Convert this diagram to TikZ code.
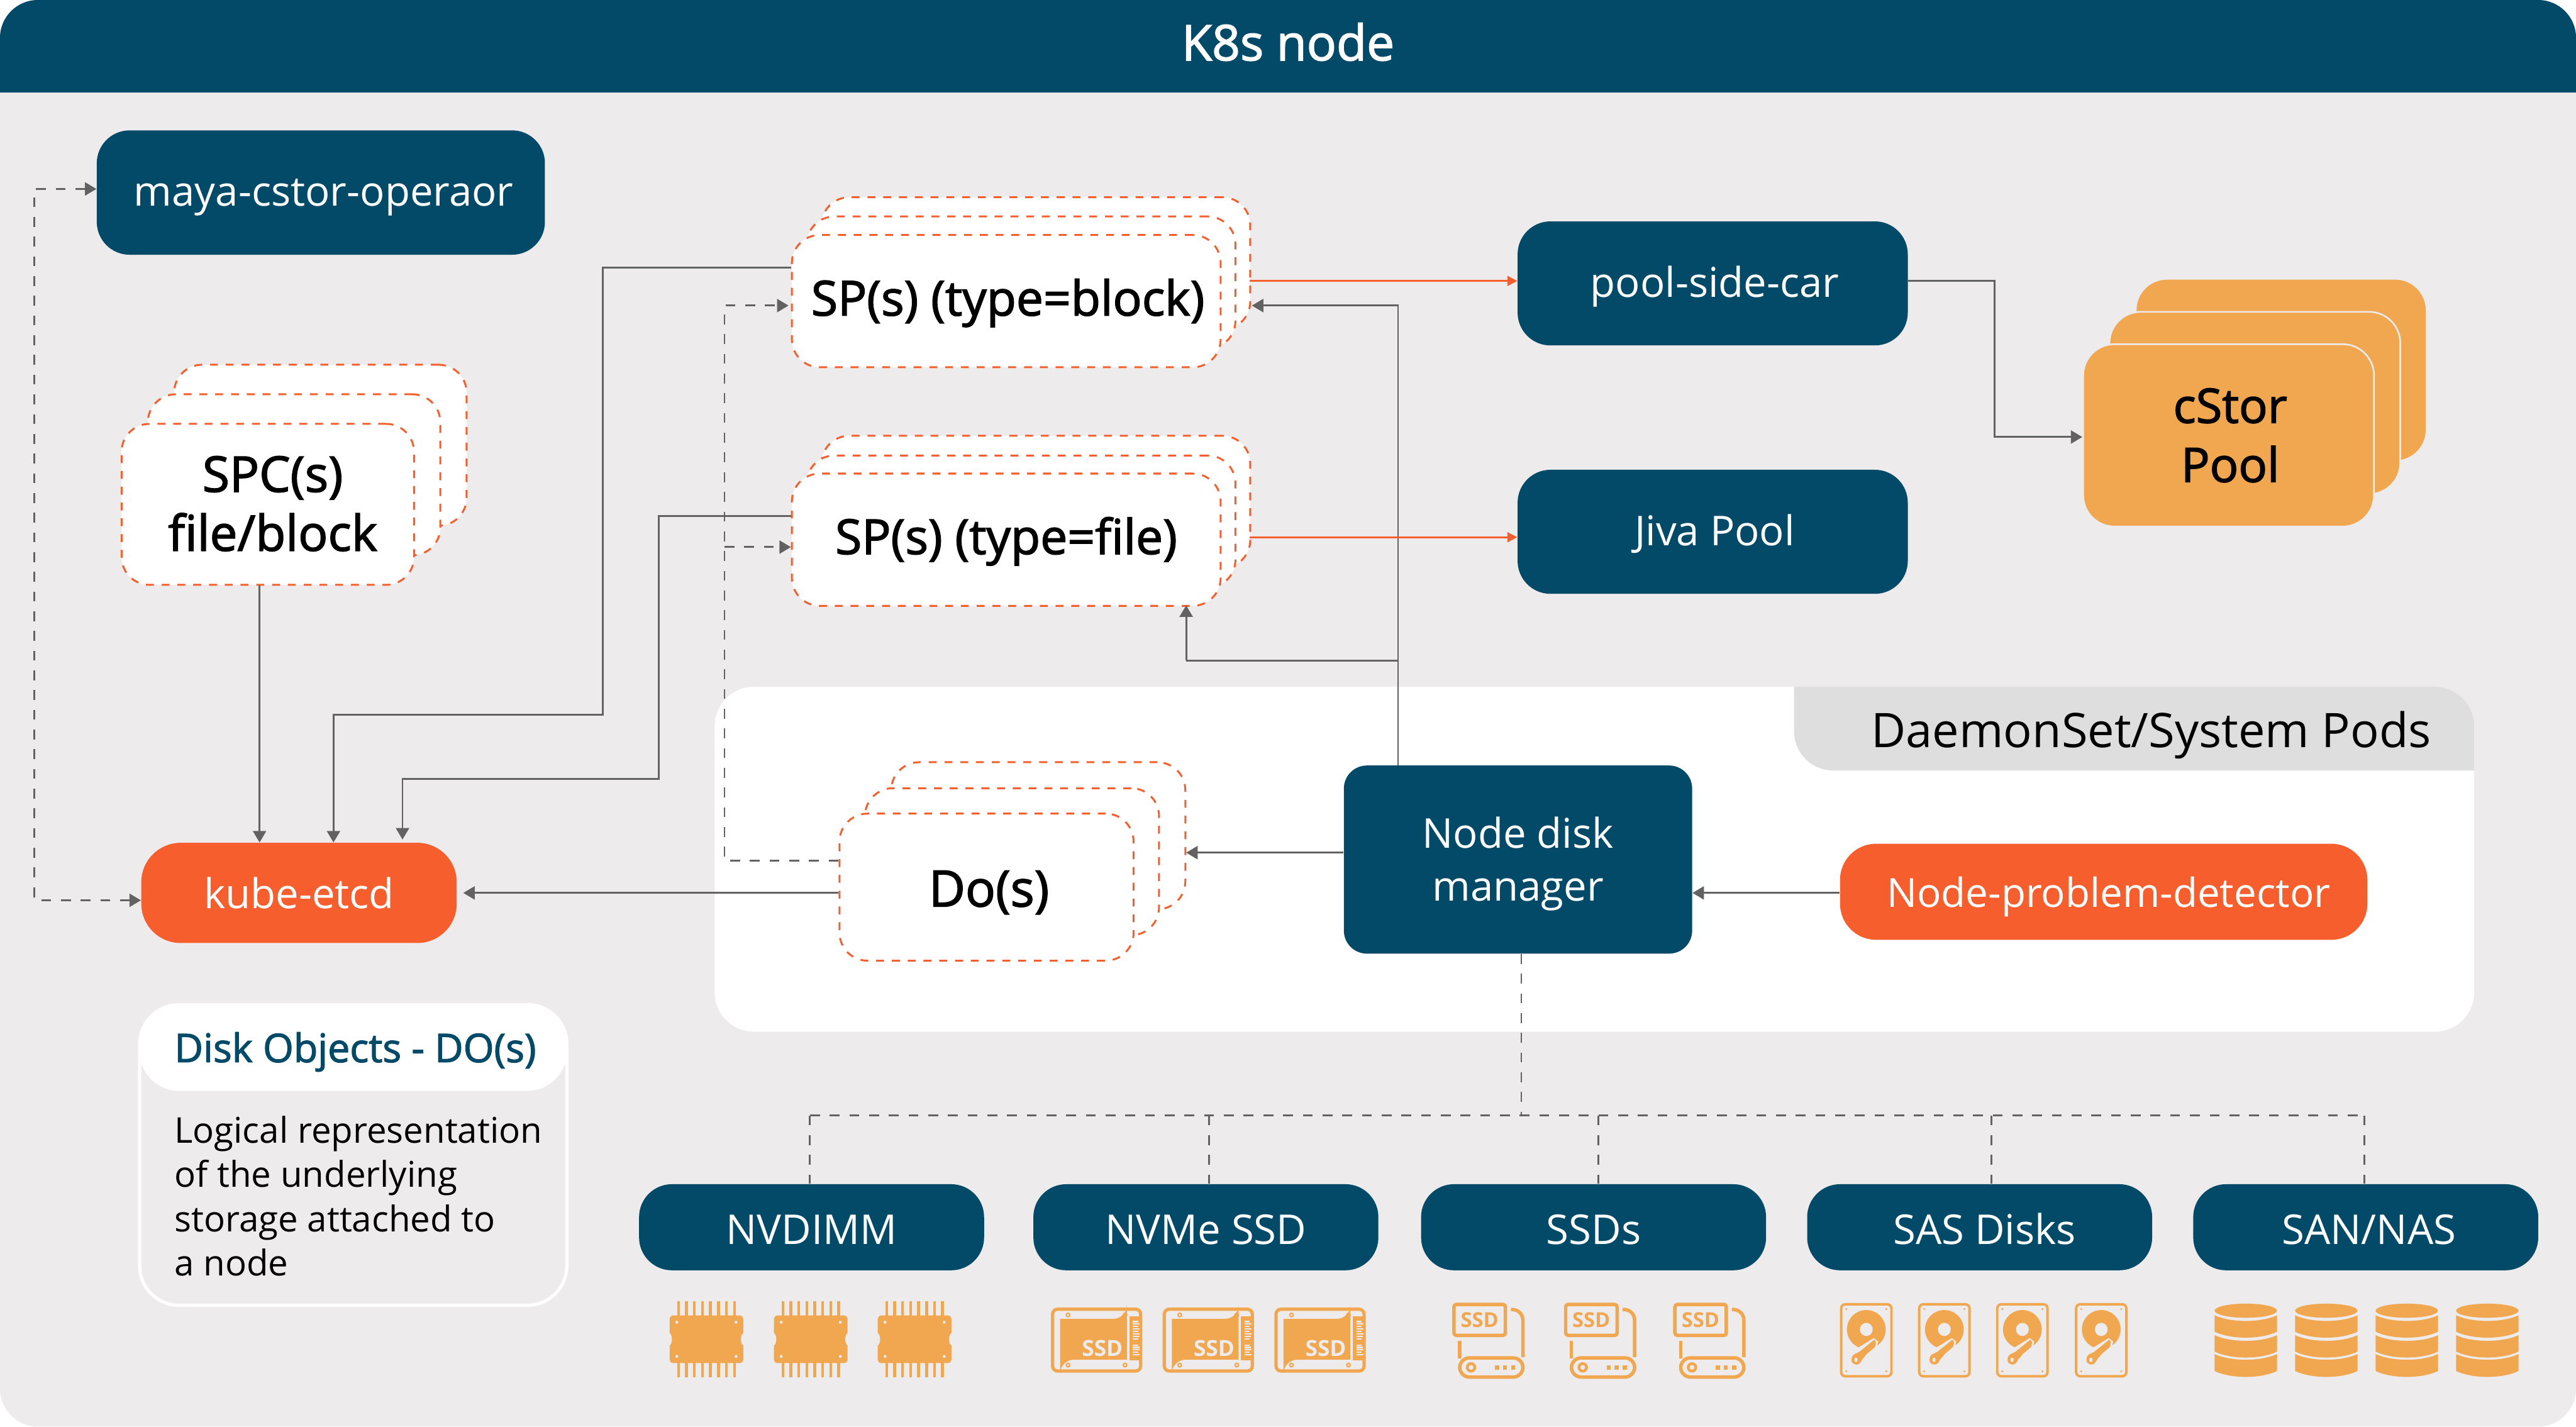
\documentclass[tikz,border=0pt]{standalone}
\usepackage{fontspec}
\setmainfont{Open Sans}
\newfontfamily\medf[FakeBold=2]{Open Sans}
\usetikzlibrary{arrows.meta}
\definecolor{navy}{HTML}{034A68}
\definecolor{hot}{HTML}{F65E2E}
\definecolor{amber}{HTML}{F0A750}
\definecolor{pagebg}{HTML}{EDEBEC}
\definecolor{tabgrey}{HTML}{DEDEDE}
\definecolor{wire}{HTML}{626262}
\newcommand{\fs}[1]{\fontsize{#1}{#1}\selectfont}
\tikzset{
  x=1pt,y=-1pt,
  solidbox/.style={rectangle,rounded corners=#1,inner sep=0pt,align=center},
  navybox/.style={solidbox=20pt,fill=navy,text=white,font=\fs{25},text height=20pt,text depth=3.4pt},
  stackbox/.style={rectangle,rounded corners=17pt,inner sep=0pt,align=center,fill=white,draw=hot,line width=1.15pt,dash pattern=on 4.8pt off 4.8pt,font=\medf\fs{29.4},text height=21pt,text depth=3.5pt},
  poolbox/.style={rectangle,rounded corners=19pt,inner sep=0pt,align=center,fill=amber,draw=pagebg,line width=1pt,font=\medf\fs{29}},
  wirearrow/.style={draw=wire,line width=1.1pt,-{Triangle[length=7pt,width=8pt]},fill=none},
  wireplain/.style={draw=wire,line width=1.1pt},
  dashwire/.style={draw=wire,line width=1.1pt,dash pattern=on 6pt off 6pt},
  hotarrow/.style={draw=hot,line width=1.15pt,-{Triangle[length=6pt,width=6pt]}},
  icon/.style={fill=amber,draw=none},
  iconline/.style={draw=amber,fill=none},
  chipicon/.pic={
    \foreach \i in {0,...,7}{\fill[amber] ({-17+\i*4.86-0.85},-23) rectangle ({-17+\i*4.86+0.85},23);}
    \fill[amber,rounded corners=2pt] (-22.4,-14.5) rectangle (22.4,14.5);
    \fill[pagebg] (-22.6,0) ellipse (1.6 and 3.7);
    \fill[pagebg] (22.6,0) ellipse (1.6 and 3.7);
    \foreach \a in {-18,18}\foreach \b in {-10.4,10.4}{\fill[pagebg] (\a,\b) circle (0.9);}
  },
  ssdcard/.pic={
    \draw[iconline,line width=2pt,rounded corners=3pt] (-26.8,-18.8) rectangle (26.8,18.8);
    \foreach \a in {-17.4,17.3}\foreach \b in {-15.3,15.2}{\draw[iconline,line width=.8pt] (\a,\b) circle (1.1);}
    \fill[amber] (-22.2,-12.9) -- (10,-12.9) arc[start angle=-90,end angle=0,x radius=8.4,y radius=-8.4] -- (18.4,11.9) -- (-13.8,11.9) arc[start angle=90,end angle=180,x radius=8.4,y radius=-8.4] -- cycle;
    \fill[amber] (19.9,-14.5) rectangle (27,12.4);
    \foreach \b/\e in {-11.2/25.2,-9.8/26.3,-8.3/25.2,-6.8/26.3,-5.2/25.2,-3.7/26.3,-2.2/26,-0.7/25.2,3/25.2,4.4/26,5.9/26.3,7.4/25.2,8.9/26.3}{\fill[pagebg] (22.1,\b-.45) rectangle (\e,\b+.45);}
    \node[text=pagebg,font=\bfseries\fs{13.5},inner sep=0pt] (ssdtxt) at (3.5,5) {SSD};
  },
  ssdcase/.pic={
    \draw[iconline,line width=2.1pt,rounded corners=1.5pt] (1,1) rectangle (32.3,19.8);
    \node[text=amber,font=\bfseries\fs{12.5},inner sep=0pt] (ssdtxt) at (16.6,10.4) {SSD};
    \draw[iconline,line width=2.1pt] (35.7,4) .. controls (40,4) and (43,6.5) .. (43,11) -- (43,33);
    \draw[iconline,line width=2.1pt] (4.5,23.2) -- (4.5,34);
    \draw[iconline,line width=2.1pt,rounded corners=6pt] (4.5,33.5) rectangle (43,45.2);
    \draw[iconline,line width=1.7pt] (11.4,39.3) circle (2.3);
    \foreach \a in {27.2,32,37}{\fill[amber] (\a-1.25,38) rectangle (\a+1.25,40.6);}
  },
  hddicon/.pic={
    \draw[iconline,line width=1.5pt,rounded corners=2.5pt] (.7,.9) rectangle (31.3,44.7);
    \fill[amber] (16,16.2) circle (11.8);
    \fill[pagebg] (16,16.2) ellipse (3.9 and 4);
    \fill[pagebg] (20.5,21.5) -- (23.2,23.5) -- (22,29.5) -- (10,40) -- (5,36) -- (5,31) -- cycle;
    \fill[amber] (20.8,22.5) .. controls (22.2,23) and (22,25) .. (21.2,27) -- (16.6,30.8) -- (13.4,34.6) .. controls (12.5,36.5) and (11.5,37.6) .. (10.2,37.6) .. controls (8,37.6) and (6.7,36) .. (7,34.6) .. controls (7,33) and (7.6,32) .. (8.5,31.4) -- (11.8,29.8) -- cycle;
    \fill[pagebg] (9.7,34.7) ellipse (1 and 1.4);
    \foreach \a in {3.8,28.2}\foreach \b in {3.8,41.7}{\fill[amber] (\a,\b) circle (.65);}
  },
  dbicon/.pic={
    \fill[amber] (19,4.3) ellipse (19 and 4.3);
    \foreach \s/\h in {7.1/10,19.2/10,30.7/10.3}{
      \fill[amber] (0,\s) .. controls (10,{\s+4.6}) and (28,{\s+4.6}) .. (38,\s) -- (38,\s+\h) .. controls (28,{\s+\h+4.8}) and (10,{\s+\h+4.8}) .. (0,\s+\h) -- cycle;
    }
  },
}
\begin{document}
\begin{tikzpicture}
\useasboundingbox (0,0) rectangle (1568,868.27);
\fill[white] (0,0) rectangle (1568,868.27);
\fill[pagebg,rounded corners=23pt] (0,0) rectangle (1568,868.27);
\fill[navy] (0,56.3) -- (0,23) arc[start angle=180,end angle=90,x radius=23,y radius=-23] -- (1545,0) arc[start angle=90,end angle=0,x radius=23,y radius=-23] -- (1568,56.3) -- cycle;
\node[text=white,font=\medf\fs{30},inner sep=0pt] (header) at (784,25.5) {K8s node};

% white panel and tab
\fill[white,rounded corners=24pt] (435,418) rectangle (1506,628);
\fill[tabgrey] (1116,418) -- (1482,418) arc[start angle=90,end angle=0,x radius=24,y radius=-24] -- (1506,469) -- (1116,469) arc[start angle=-90,end angle=-180,x radius=24,y radius=-24] -- (1092,418) -- cycle;
\node[font=\fs{29},inner sep=0pt,text height=27pt,text depth=6pt] (tablabel) at (1309.5,444.5) {DaemonSet/System Pods};

% solid nodes
\node[navybox,minimum width=272.8pt,minimum height=75.7pt] (maya) at (195.3,117.2) {\hspace*{3.5pt}maya-cstor-operaor};
\node[navybox,minimum width=237.5pt,minimum height=75.5pt] (car) at (1042.5,172.5) {\hspace*{2.5pt}pool-side-car};
\node[navybox,minimum width=237.5pt,minimum height=75.5pt] (jiva) at (1042.5,323.7) {\hspace*{2.5pt}Jiva Pool};
\node[navybox,solidbox=14pt,minimum width=212pt,minimum height=114.5pt,text height=53.5pt,text depth=3.4pt] (ndm) at (924,523.2) {Node disk\\[7pt]manager};
\node[solidbox=22pt,fill=hot,text=white,font=\fs{24.4},text height=22pt,text depth=3.4pt,minimum width=321pt,minimum height=58.5pt] (npd) at (1280.5,542.8) {\hspace*{6pt}Node-problem-detector};
\node[solidbox=24pt,fill=hot,text=white,font=\fs{25},text height=22pt,text depth=3.4pt,minimum width=192pt,minimum height=61pt] (etcd) at (182,543.5) {kube-etcd};

% storage nodes
\foreach \n/\c/\s/\t in {nvd/494/0/{NVDIMM},nvm/734/0/{NVMe SSD},ssds/970/0/{SSDs},sas/1205/6/{SAS Disks},san/1440/4/{SAN/NAS}}{
  \node[navybox,text height=24pt,minimum width=210pt,minimum height=52.4pt] (\n) at (\c,747) {\hspace*{\s pt}\t};
}

% SPC stack
\node[stackbox,minimum width=178pt,minimum height=98pt] (spcb) at (195,271) {};
\node[stackbox,minimum width=178pt,minimum height=98pt] (spcm) at (179,289) {};
\node[stackbox,minimum width=178pt,minimum height=98pt,text height=60pt] (spc) at (163,307) {\hspace*{6pt}\fs{30}SPC(s)\\[6.5pt]\hspace*{6pt}\fs{30}file/block};
% SP block stack
\node[stackbox,minimum width=261pt,minimum height=80.5pt] (spbb) at (630.5,160.3) {};
\node[stackbox,minimum width=261pt,minimum height=80.5pt] (spbm) at (621.5,172) {};
\node[stackbox,minimum width=261pt,minimum height=80.5pt] (spb) at (612.5,183.3) {\hspace*{2pt}SP(s) (type=block)};
% SP file stack
\node[stackbox,minimum width=261pt,minimum height=80.5pt] (spfb) at (630.5,305.5) {};
\node[stackbox,minimum width=261pt,minimum height=80.5pt] (spfm) at (621.5,317.5) {};
\node[stackbox,minimum width=261pt,minimum height=80.5pt] (spf) at (612.5,328.5) {SP(s) (type=file)};
% Do stack
\node[stackbox,minimum width=179pt,minimum height=89.5pt] (dob) at (632,508.7) {};
\node[stackbox,minimum width=179pt,minimum height=89.5pt] (dom) at (616,524.5) {};
\node[stackbox,minimum width=179pt,minimum height=89.5pt,text height=27pt] (do) at (600.5,540) {\hspace*{3pt}\fs{30.5}Do(s)};
% cStor stack
\node[poolbox,minimum width=177pt,minimum height=111pt] (poolb) at (1388.5,225.2) {};
\node[poolbox,minimum width=177pt,minimum height=111pt] (poolm) at (1372.5,245.3) {};
\node[poolbox,minimum width=177pt,minimum height=111pt] (pool) at (1356.5,265) {\hspace*{2pt}cStor\\[7pt]\hspace*{2pt}Pool};

% legend
\draw[white,line width=2pt,rounded corners=24pt] (85,611.5) rectangle (345,794.5);
\fill[white] (85,664) -- (85,635) arc[start angle=180,end angle=90,x radius=24,y radius=-24] -- (321,611) arc[start angle=90,end angle=0,x radius=24,y radius=-24] -- (345,640) arc[start angle=0,end angle=-90,x radius=24,y radius=-24] -- (109,664) arc[start angle=-90,end angle=-180,x radius=24,y radius=-24] -- cycle;
\node[text=navy,font=\medf\fs{24},anchor=base west,inner sep=0pt] (legendhead) at (106,646.5) {Disk Objects - DO(s)};
\node[font=\fontsize{21.6}{27}\selectfont,anchor=north west,inner sep=0pt,align=left] (legendbody) at (106,679) {Logical representation\\of the underlying\\storage attached to\\a node};

% connectors
\draw[wirearrow] (spc.south -| 158,0) -- (158,0 |- etcd.north);
\draw[wirearrow] (spb.west |- 0,163) -- (367,163) -- (367,435) -- (203,435) -- (203,0 |- etcd.north);
\draw[wirearrow] (spf.west |- 0,314) -- (401,314) -- (401,474) -- (245,474) -- (245,511);
\draw[wirearrow] (do.west |- 0,543.5) -- (282,543.5);
\draw[wirearrow] (ndm.west |- 0,519) -- (722,519);
\draw[wirearrow] (npd.west |- 0,543.5) -- (ndm.east |- 0,543.5);
\draw[wirearrow] (851,0 |- ndm.north) -- (851,186) -- (762,186);
\draw[wireplain] (851,402) -- (722,402);
\draw[wirearrow] (722,402) -- (722,368.5);
\draw[wirearrow] (car.east |- 0,171) -- (1214,171) -- (1214,266) -- (pool.west |- 0,266);
\draw[hotarrow] (760.5,171) -- (car.west |- 0,171);
\draw[hotarrow] (760.5,327) -- (jiva.west |- 0,327);

\draw[dashwire,{Triangle[length=7pt,width=8pt]}-{Triangle[length=7pt,width=8pt]}] (etcd.west |- 0,548) -- (21,548) -- (21,115) -- (maya.west |- 0,115);
\draw[dashwire,-{Triangle[length=7pt,width=8pt]}] (do.west |- 0,524) -- (441,524) -- (441,186) -- (480,186);
\draw[dashwire,-{Triangle[length=7pt,width=8pt]}] (441,333) -- (spf.west |- 0,333);
\draw[dashwire] (926,0 |- ndm.south) -- (926,679);
\draw[dashwire] (493,679) -- (1439,679);
\foreach \x/\n in {493/nvd,736/nvm,973/ssds,1212/sas,1439/san}{
  \draw[dashwire] (\x,679) -- (\x,0 |- \n.north);
}

% icons
\foreach \x in {430,493.5,556.7}{\pic at (\x,815.2) {chipicon};}
\foreach \x in {667.5,735.5,803.5}{\pic at (\x,815.7) {ssdcard};}
\foreach \x in {884,952,1018.5}{\pic at (\x,793) {ssdcase};}
\foreach \x in {1120,1167.5,1215,1263}{\pic at (\x,793) {hddicon};}
\foreach \x in {1348,1397,1446,1495}{\pic at (\x,793.5) {dbicon};}
\end{tikzpicture}
\end{document}
